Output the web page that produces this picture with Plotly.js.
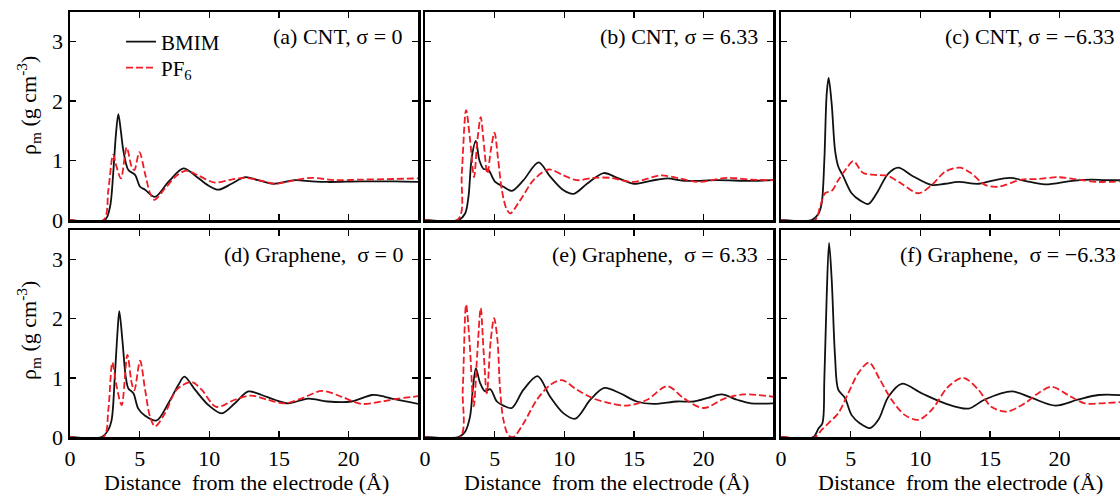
<!DOCTYPE html>
<html>
<head>
<meta charset="utf-8">
<script src="https://cdn.plot.ly/plotly-3.0.1.min.js"></script>
<style>html,body{margin:0;padding:0;background:#fff;}#chart{width:1120px;height:496px;}</style>
</head>
<body>
<div id="chart"></div>
<script>
// ---------- Data ----------
const seriesNames = ['BMIM', 'PF<sub>6</sub>'];
const panelLabels = ['(a) CNT, σ = 0', '(b) CNT, σ = 6.33', '(c) CNT, σ = −6.33',
                     '(d) Graphene,\u00A0 σ = 0', '(e) Graphene,\u00A0 σ = 6.33', '(f) Graphene,\u00A0 σ = −6.33'];
const xTickVals = [0, 5, 10, 15, 20];
const yTickVals = [0, 1, 2, 3];

// (a) CNT, sigma = 0
const A_bm_x = [0, 2.5, 2.87, 3.1, 3.3, 3.47, 3.65, 3.83, 4.19, 4.67, 5.03, 5.39, 6.1, 7.06, 8.14, 8.97, 9.93, 10.65, 11.6, 12.56, 13.5, 14.6, 16.15, 17.35, 18.5, 20.9, 23.3, 25];
const A_bm_y = [0, 0, 0.22, 0.78, 1.45, 1.78, 1.5, 1.17, 0.84, 0.76, 0.56, 0.51, 0.39, 0.64, 0.87, 0.75, 0.58, 0.51, 0.61, 0.72, 0.67, 0.61, 0.67, 0.65, 0.64, 0.65, 0.65, 0.64];
const A_pf_x = [0, 2.4, 2.75, 3.1, 3.35, 3.66, 4.07, 4.43, 4.62, 4.98, 5.39, 5.75, 6.05, 6.82, 7.66, 8.37, 9.2, 10.4, 11.6, 12.56, 13.76, 14.7, 16.15, 17.35, 19, 20.9, 23.3, 25];
const A_pf_y = [0, 0, 0.5, 1.1, 0.89, 0.70, 1.22, 0.89, 0.84, 1.14, 0.78, 0.45, 0.34, 0.53, 0.75, 0.83, 0.75, 0.63, 0.68, 0.71, 0.66, 0.61, 0.67, 0.71, 0.67, 0.68, 0.69, 0.70];

// (b) CNT, sigma = 6.33
const B_bm_x = [0, 2.4, 2.88, 3.12, 3.36, 3.65, 3.91, 4.2, 4.55, 5.04, 5.63, 6.23, 7.07, 8.15, 8.99, 9.95, 10.67, 11.63, 12.83, 13.8, 14.99, 16.2, 17.4, 18.6, 20.98, 23.4, 25];
const B_bm_y = [0, 0, 0.11, 0.39, 1.06, 1.33, 1.0, 0.86, 0.84, 0.64, 0.56, 0.49, 0.67, 0.97, 0.73, 0.50, 0.44, 0.61, 0.79, 0.71, 0.61, 0.66, 0.70, 0.66, 0.67, 0.66, 0.67];
const B_pf_x = [0, 2.4, 2.64, 2.95, 3.24, 3.52, 3.76, 4.0, 4.2, 4.48, 4.72, 4.99, 5.23, 5.52, 5.83, 6.11, 6.83, 7.79, 8.87, 9.95, 10.9, 12.1, 13.3, 14.99, 16.9, 18.3, 19.6, 21.7, 23.4, 25];
const B_pf_y = [0, 0.02, 0.78, 1.85, 1.34, 0.72, 1.34, 1.73, 1.34, 0.78, 1.17, 1.47, 1.06, 0.50, 0.20, 0.11, 0.33, 0.67, 0.85, 0.75, 0.67, 0.71, 0.71, 0.64, 0.75, 0.70, 0.64, 0.71, 0.68, 0.67];

// (c) CNT, sigma = -6.33
const C_bm_x = [0, 2.2, 2.68, 2.92, 3.11, 3.28, 3.42, 3.64, 3.88, 4.11, 4.48, 5.07, 5.67, 6.27, 6.87, 7.7, 8.42, 9.38, 10.8, 11.77, 12.73, 14.17, 15.1, 16.44, 17.5, 18.95, 20.9, 22.3, 23.3, 25];
const C_bm_y = [0, 0, 0.1, 0.28, 1.0, 2.12, 2.39, 1.95, 1.17, 0.9, 0.73, 0.45, 0.33, 0.27, 0.45, 0.78, 0.88, 0.75, 0.59, 0.61, 0.64, 0.61, 0.66, 0.71, 0.66, 0.60, 0.66, 0.68, 0.67, 0.67];
const C_pf_x = [0, 2.44, 2.8, 3.16, 3.64, 4.11, 4.71, 5.19, 5.91, 6.75, 7.7, 8.66, 9.86, 10.82, 11.77, 12.85, 13.69, 14.65, 15.6, 17.27, 18.47, 19.9, 21.3, 22.8, 25];
const C_pf_y = [0, 0, 0.22, 0.45, 0.49, 0.67, 0.87, 0.99, 0.79, 0.76, 0.74, 0.61, 0.45, 0.59, 0.81, 0.88, 0.78, 0.59, 0.56, 0.68, 0.69, 0.72, 0.68, 0.64, 0.66];

// (d) Graphene, sigma = 0
const D_bm_x = [0, 2.27, 2.75, 2.99, 3.23, 3.42, 3.54, 3.76, 4.0, 4.19, 4.55, 4.9, 5.39, 6.22, 7.06, 7.78, 8.21, 8.97, 9.93, 10.9, 11.84, 12.8, 13.76, 14.7, 15.67, 17.1, 18.5, 20.2, 21.7, 22.6, 23.3, 25];
const D_bm_y = [0, 0, 0.12, 0.29, 1.08, 1.81, 2.13, 1.64, 1.02, 0.82, 0.74, 0.48, 0.36, 0.28, 0.57, 0.88, 1.02, 0.80, 0.54, 0.40, 0.57, 0.77, 0.71, 0.63, 0.57, 0.65, 0.60, 0.60, 0.71, 0.68, 0.64, 0.56];
const D_pf_x = [0, 2.4, 2.75, 3.04, 3.35, 3.71, 4.12, 4.43, 4.62, 5.03, 5.39, 5.75, 6.1, 6.82, 7.66, 8.74, 9.45, 10.5, 11.84, 13.0, 14.2, 15.4, 16.6, 18.1, 19.5, 20.9, 22.4, 23.3, 25];
const D_pf_y = [0, 0, 0.46, 1.26, 0.85, 0.54, 1.39, 0.91, 0.79, 1.29, 0.80, 0.34, 0.18, 0.40, 0.80, 0.93, 0.80, 0.51, 0.63, 0.70, 0.63, 0.57, 0.65, 0.78, 0.68, 0.56, 0.60, 0.64, 0.69];

// (e) Graphene, sigma = 6.33
const E_bm_x = [0, 2.4, 2.88, 3.23, 3.43, 3.65, 3.96, 4.32, 4.68, 5.16, 5.63, 6.23, 7.07, 8.08, 8.99, 9.95, 10.79, 11.87, 12.87, 14.0, 15.2, 16.4, 18.1, 19.3, 20.3, 21.3, 22.4, 23.4, 25];
const E_bm_y = [0, 0, 0.09, 0.34, 0.80, 1.16, 0.91, 0.77, 0.81, 0.60, 0.53, 0.49, 0.80, 1.03, 0.68, 0.40, 0.31, 0.63, 0.83, 0.74, 0.60, 0.56, 0.60, 0.60, 0.66, 0.72, 0.63, 0.57, 0.57];
const E_pf_x = [0, 2.52, 2.71, 2.95, 3.19, 3.5, 3.75, 4.0, 4.2, 4.44, 4.72, 4.96, 5.2, 5.39, 5.63, 5.99, 6.35, 7.07, 8.03, 8.99, 9.83, 10.9, 12.1, 13.3, 14.5, 15.95, 17.4, 18.6, 20.0, 21.5, 22.9, 25];
const E_pf_y = [0, 0, 0.80, 2.24, 1.64, 0.52, 1.40, 2.18, 1.47, 0.74, 1.64, 2.01, 1.64, 0.80, 0.29, 0.03, 0.0, 0.23, 0.63, 0.88, 0.96, 0.80, 0.65, 0.57, 0.53, 0.63, 0.86, 0.65, 0.49, 0.65, 0.72, 0.68];

// (f) Graphene, sigma = -6.33
const F_bm_x = [0, 2.32, 2.68, 2.97, 3.11, 3.28, 3.45, 3.64, 3.88, 4.11, 4.59, 5.07, 5.67, 6.39, 6.99, 7.71, 8.66, 10.1, 11.77, 13.45, 14.6, 16.56, 18.0, 19.7, 21.3, 22.8, 25];
const F_bm_y = [0, 0, 0.14, 0.23, 0.96, 2.38, 3.28, 2.66, 1.36, 0.80, 0.66, 0.37, 0.23, 0.15, 0.29, 0.68, 0.90, 0.74, 0.57, 0.48, 0.63, 0.77, 0.66, 0.53, 0.63, 0.71, 0.70];
const F_pf_x = [0, 2.44, 2.92, 3.52, 4.11, 4.83, 5.55, 6.32, 7.1, 7.94, 8.9, 9.86, 10.82, 12.0, 13.09, 14.17, 15.1, 16.2, 17.5, 18.47, 19.43, 20.6, 21.8, 23.0, 25];
const F_pf_y = [0, 0, 0.12, 0.26, 0.40, 0.74, 1.08, 1.26, 0.97, 0.63, 0.37, 0.29, 0.46, 0.85, 1.0, 0.80, 0.51, 0.43, 0.57, 0.74, 0.85, 0.71, 0.57, 0.57, 0.60];

// ---------- Layout geometry ----------
const W = 1120, H = 496;
const colPx = [[70, 418], [425, 773], [781, 1120]];
const rowPx = [[12, 220], [230, 437]];
const pxPerUnit = 13.93;
const FONT = {family: 'Liberation Serif', size: 22, color: '#000'};
const LEGFONT = {family: 'Liberation Serif', size: 21, color: '#000'};
const BLACK = '#111111', RED = '#ee1c24';

const panels = [
  {bx: A_bm_x, by: A_bm_y, px: A_pf_x, py: A_pf_y},
  {bx: B_bm_x, by: B_bm_y, px: B_pf_x, py: B_pf_y},
  {bx: C_bm_x, by: C_bm_y, px: C_pf_x, py: C_pf_y},
  {bx: D_bm_x, by: D_bm_y, px: D_pf_x, py: D_pf_y},
  {bx: E_bm_x, by: E_bm_y, px: E_pf_x, py: E_pf_y},
  {bx: F_bm_x, by: F_bm_y, px: F_pf_x, py: F_pf_y}
];

const traces = [];
const layout = {
  width: W, height: H,
  margin: {l: 0, r: 0, t: 0, b: 0},
  paper_bgcolor: '#fff', plot_bgcolor: '#fff',
  font: FONT,
  showlegend: true,
  legend: {x: 121 / W, y: 1 - 42 / H, xanchor: 'left', yanchor: 'middle',
           bgcolor: 'rgba(0,0,0,0)', font: LEGFONT},
  legend2: {x: 121 / W, y: 1 - 68 / H, xanchor: 'left', yanchor: 'middle',
           bgcolor: 'rgba(0,0,0,0)', font: LEGFONT},
  annotations: []
};

panels.forEach((p, i) => {
  const r = Math.floor(i / 3), c = i % 3;
  const n = i === 0 ? '' : String(i + 1);
  const xa = 'x' + n, ya = 'y' + n;
  const [x0, x1] = colPx[c];
  const [y0, y1] = rowPx[r];
  const xMax = (x1 - x0) / pxPerUnit;
  const lineCommon = {mode: 'lines', xaxis: xa, yaxis: ya, hoverinfo: 'skip', cliponaxis: false};
  traces.push(Object.assign({}, lineCommon, {
    x: p.bx, y: p.by, name: seriesNames[0], showlegend: i === 0, legend: 'legend',
    line: {color: BLACK, width: 1.8, shape: 'spline', smoothing: 0.9}
  }));
  traces.push(Object.assign({}, lineCommon, {
    x: p.px, y: p.py, name: seriesNames[1], showlegend: i === 0, legend: 'legend2',
    line: {color: RED, width: 1.8, dash: '7px,3px', shape: 'spline', smoothing: 0.9}
  }));
  layout['xaxis' + n] = {
    domain: [x0 / W, x1 / W], anchor: ya, range: [0, xMax], layer: 'below traces',
    showgrid: false, zeroline: false, showline: true, linecolor: '#000', linewidth: 2.5,
    mirror: 'ticks', ticks: 'inside', ticklen: 6, tickwidth: 1.5, tickcolor: '#000',
    tickvals: xTickVals, showticklabels: r === 1, tickfont: FONT, fixedrange: true
  };
  layout['yaxis' + n] = {
    domain: [1 - y1 / H, 1 - y0 / H], anchor: xa, range: [0, 3.5], layer: 'below traces',
    showgrid: false, zeroline: false, showline: true, linecolor: '#000', linewidth: 2.5,
    mirror: c === 2 ? false : 'ticks', ticks: 'inside', ticklen: 6, tickwidth: 1.5, tickcolor: '#000',
    tickvals: yTickVals, showticklabels: c === 0, tickfont: FONT, fixedrange: true
  };
});

// Panel labels (top-right corner of each panel)
const labelRight = [405, 760, 1116, 405, 760, 1118];
const labelY = [37, 37, 37, 254, 254, 254];
panelLabels.forEach((t, i) => {
  layout.annotations.push({text: t, xref: 'paper', yref: 'paper', x: labelRight[i] / W, y: 1 - labelY[i] / H,
    xanchor: 'right', yanchor: 'middle', showarrow: false, font: FONT});
});
// Y axis titles
[106, 331].forEach(yc => {
  layout.annotations.push({text: 'ρ<sub>m</sub> (g cm<sup>-3</sup>)', xref: 'paper', yref: 'paper',
    x: 28 / W, y: 1 - yc / H, xanchor: 'center', yanchor: 'middle', textangle: -90, showarrow: false, font: FONT});
});
// X axis titles
[246, 606, 960].forEach(xc => {
  layout.annotations.push({text: 'Distance\u00A0 from the electrode (Å)', xref: 'paper', yref: 'paper',
    x: xc / W, y: 1 - 482 / H, xanchor: 'center', yanchor: 'middle', showarrow: false, font: FONT});
});

Plotly.newPlot('chart', traces, layout, {displayModeBar: false, staticPlot: true});
</script>
</body>
</html>
